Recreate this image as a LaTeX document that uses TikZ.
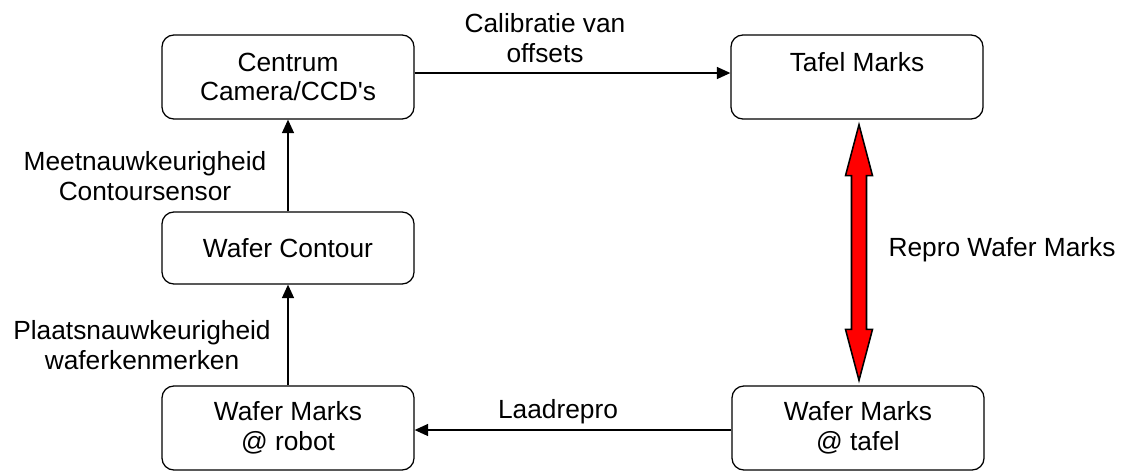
\documentclass[tikz,border=0pt]{standalone}
\usepackage{fontspec}
\setmainfont{Liberation Sans}
\usetikzlibrary{arrows.meta, calc}

\begin{document}
\begin{tikzpicture}[x=0.025cm, y=-0.025cm,
		font=\fontsize{18.7}{21}\selectfont,
		box/.style={draw, line width=0.9pt, rounded corners=8.5pt, align=center,
			minimum width=6.3cm, minimum height=2.1cm, inner sep=0pt},
		lbl/.style={align=center, inner sep=0pt},
		arr/.style={line width=0.9pt, -{Triangle[width=8.5pt, length=9.5pt]}},
		reparrow/.style={fill=red, draw=black, line width=1.1pt, line join=miter}]
		\useasboundingbox (0,0) rectangle (1123,470);
		% boxes
		\node[box] (cent) at (288,77) {Centrum\\Camera/CCD\textquotesingle s};
		\node[box] (tafel) at (857,77) {Tafel Marks\\~};
		\node[box, minimum height=1.8cm] (contour) at (288,248) {Wafer Contour};
		\node[box] (robot) at (288,428) {Wafer Marks\\@ robot};
		\node[box] (wtafel) at (858,428) {Wafer Marks\\@ tafel};
		% connectors
		\draw[arr] (cent.east |- 0,73) -- (tafel.west |- 0,73);
		\draw[arr] (contour.north) -- (cent.south);
		\draw[arr] (robot.north) -- (contour.south);
		\draw[arr] (wtafel.west |- 0,430) -- (robot.east |- 0,430);
		% red double arrow
		\coordinate (rt) at ($(tafel.south)+(2,5)$);
		\coordinate (rb) at ($(wtafel.north)+(1,-5)$);
		\filldraw[reparrow] (rt) -- ($(rt)+(13.5,51)$) -- ($(rt)+(7.5,51)$)
		-- ($(rb)+(7.5,-51)$) -- ($(rb)+(13.5,-51)$) -- (rb)
		-- ($(rb)+(-13.5,-51)$) -- ($(rb)+(-7.5,-51)$)
		-- ($(rt)+(-7.5,51)$) -- ($(rt)+(-13.5,51)$) -- cycle;
		% labels
		\node[lbl] (lcal) at (545,38) {Calibratie van\\offsets};
		\node[lbl] (lrep) at (1002,250) {Repro Wafer Marks};
		\node[lbl] (lmeet) at (145,176) {Meetnauwkeurigheid\\Contoursensor};
		\node[lbl] (lplaats) at (142,345) {Plaatsnauwkeurigheid\\waferkenmerken};
		\node[lbl] (llaad) at (558,412) {Laadrepro};
	\end{tikzpicture}
\end{document}
